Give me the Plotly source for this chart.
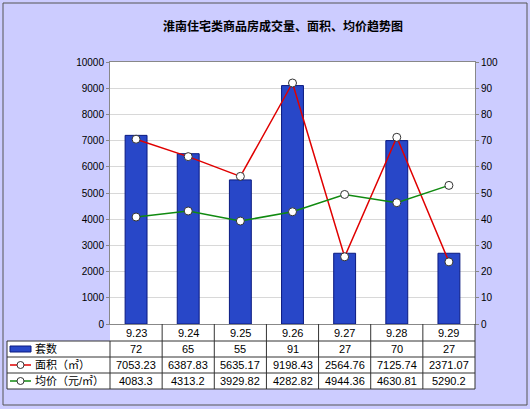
import plotly.graph_objects as go

dates = ["9.23", "9.24", "9.25", "9.26", "9.27", "9.28", "9.29"]
units = [72, 65, 55, 91, 27, 70, 27]
area = [7053.23, 6387.83, 5635.17, 9198.43, 2564.76, 7125.74, 2371.07]
price = [4083.3, 4313.2, 3929.82, 4282.82, 4944.36, 4630.0, 5290.0]
price_txt = ["4083.3", "4313.2", "3929.82", "4282.82", "4944.36", "4630.81", "5290.2"]

W, H = 530, 409
L, R, T, B = 110, 475, 62, 324
def px(x): return (x - L) / (R - L)
def py(y): return (B - y) / (B - T)

fig = go.Figure()
fig.add_bar(x=dates, y=units, yaxis="y", width=0.42,
            marker=dict(color="#2847c8", line=dict(color="#0a1a80", width=1)), name="套数")
mk = dict(symbol="circle", size=8, color="white", line=dict(color="#333", width=1))
fig.add_scatter(x=dates, y=area, yaxis="y2", mode="lines+markers", line=dict(color="#e00000", width=1.5), marker=mk, name="面积")
fig.add_scatter(x=dates, y=price, yaxis="y2", mode="lines+markers", line=dict(color="#108a10", width=1.5), marker=mk, name="均价")

shapes = []
ann = []
f = dict(family="Liberation Sans, Noto Sans CJK SC", size=11, color="#000")
shapes.append(dict(type="rect", xref="paper", yref="paper", x0=px(3), x1=px(527), y0=py(3), y1=py(405),
                   line=dict(color="#555", width=1), fillcolor="rgba(0,0,0,0)", layer="below"))
shapes.append(dict(type="rect", xref="paper", yref="paper", x0=px(L), x1=px(R), y0=py(324), y1=py(341),
                   line=dict(width=0), fillcolor="white", layer="below"))
shapes.append(dict(type="rect", xref="paper", yref="paper", x0=px(7), x1=px(R), y0=py(341), y1=py(389),
                   line=dict(width=0), fillcolor="white", layer="below"))
cols = [L + i * (R - L) / 7 for i in range(8)]
rows = [324, 341, 357, 373, 389]
for i, c in enumerate(cols):
    shapes.append(dict(type="line", xref="paper", yref="paper", x0=px(c), x1=px(c),
                       y0=py(324 if i > 0 else 341), y1=py(389), line=dict(color="#333", width=1)))
shapes.append(dict(type="line", xref="paper", yref="paper", x0=px(7), x1=px(7), y0=py(341), y1=py(389), line=dict(color="#333", width=1)))
for r in rows[1:]:
    shapes.append(dict(type="line", xref="paper", yref="paper", x0=px(7), x1=px(R), y0=py(r), y1=py(r), line=dict(color="#333", width=1)))
rowvals = [dates, [str(v) for v in units], [f"{v:.2f}" for v in area], price_txt]
for ri, vals in enumerate(rowvals):
    yc = (rows[ri] + rows[ri + 1]) / 2
    for ci, v in enumerate(vals):
        xc = (cols[ci] + cols[ci + 1]) / 2
        ann.append(dict(xref="paper", yref="paper", x=px(xc), y=py(yc), text=v, showarrow=False, font=f,
                        xanchor="center", yanchor="middle"))
labels = ["套数", "面积（㎡）", "均价（元/㎡）"]
for ri, lab in enumerate(labels):
    yc = (rows[ri + 1] + rows[ri + 2]) / 2
    ann.append(dict(xref="paper", yref="paper", x=px(33), y=py(yc), text=lab, showarrow=False, font=f,
                    xanchor="left", yanchor="middle"))
shapes.append(dict(type="rect", xref="paper", yref="paper", x0=px(10), x1=px(31), y0=py(352), y1=py(346),
                   fillcolor="#2847c8", line=dict(color="#0a1a80", width=1)))
for ri, col in [(1, "#e00000"), (2, "#108a10")]:
    yc = (rows[ri + 1] + rows[ri + 2]) / 2
    shapes.append(dict(type="line", xref="paper", yref="paper", x0=px(10), x1=px(31), y0=py(yc), y1=py(yc), line=dict(color=col, width=1.5)))
    shapes.append(dict(type="circle", xref="paper", yref="paper", x0=px(17), x1=px(24), y0=py(yc + 3.5), y1=py(yc - 3.5),
                       fillcolor="white", line=dict(color="#333", width=1)))
ann.append(dict(xref="paper", yref="paper", x=px(283), y=py(25), text="<b>淮南住宅类商品房成交量、面积、均价趋势图</b>",
                showarrow=False, xanchor="center", yanchor="middle",
                font=dict(family="Noto Sans CJK SC", size=12, color="#000")))

fig.update_layout(
    width=W, height=H, margin=dict(l=L, r=W - R, t=T, b=H - B, autoexpand=False),
    paper_bgcolor="#ccccff", plot_bgcolor="white", showlegend=False,
    font=dict(family="Liberation Sans, Noto Sans CJK SC", size=10, color="#000"),
    xaxis=dict(showticklabels=False, showline=True, linecolor="#888", mirror=True, ticks="", automargin=False),
    yaxis=dict(range=[0, 100], dtick=10, side="right", showgrid=False, showline=True, linecolor="#888",
               ticks="outside", ticklen=3, tickcolor="#888", tickfont=dict(size=10), zeroline=False, automargin=False),
    yaxis2=dict(range=[0, 10000], dtick=1000, tickformat="d", overlaying="y", side="left", showgrid=True, gridcolor="#d8d8d8",
                showline=True, linecolor="#888", ticks="outside", ticklen=3, tickcolor="#888", tickfont=dict(size=10),
                zeroline=False, automargin=False, layer="below traces"),
    shapes=shapes, annotations=ann,
)
fig.write_html("out.html", config={"displayModeBar": False},
               post_script="document.body.style.margin='0';document.body.style.overflow='hidden';")
